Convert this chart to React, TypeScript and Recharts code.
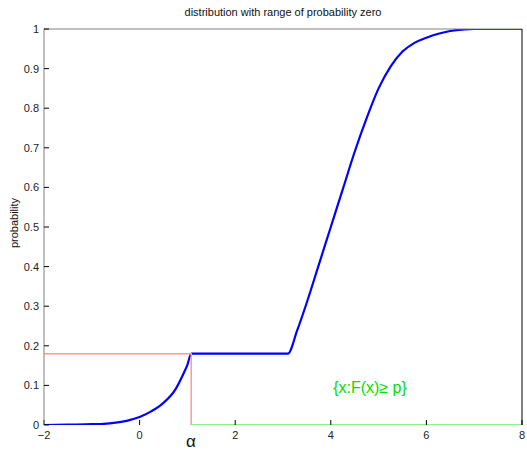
import { LineChart, Line, XAxis, YAxis, ReferenceDot } from "recharts";

// lower branch of the CDF, rising to the plateau
const lowerX = [-2, -1.5, -1, -0.75, -0.5, -0.25, 0, 0.25, 0.5, 0.75, 0.9, 1.0, 1.08];
const lowerP = [0, 0.001, 0.002, 0.003, 0.006, 0.011, 0.02, 0.035, 0.056, 0.09, 0.125, 0.152, 0.18];

// flat stretch: no probability mass between the two branches
const flatX = [1.08, 3.1];
const flatP = [0.18, 0.18];

// upper branch, from the plateau up to 1
const upperX = [3.1, 3.3, 3.5, 3.75, 4.0, 4.25, 4.5, 4.75, 5.0, 5.25, 5.5, 5.75, 6.0, 6.25, 6.5, 6.8, 7.0, 8.0];
const upperP = [0.18, 0.24, 0.31, 0.405, 0.5, 0.595, 0.69, 0.775, 0.85, 0.905, 0.943, 0.965, 0.978, 0.988, 0.995, 0.999, 1, 1];

// alpha marker and the set {x : F(x) >= p}
const alpha = 1.08;
const level = 0.18;
const guideX = [-2, alpha, alpha];
const guideP = [level, level, 0];
const setX = [alpha, 8];
const setP = [0, 0];

const xTicks = [-2, 0, 2, 4, 6, 8];
const yTicks = [0, 0.1, 0.2, 0.3, 0.4, 0.5, 0.6, 0.7, 0.8, 0.9, 1];

const zip = (xs: number[], ps: number[]) => xs.map((x, i) => ({ x, p: ps[i] }));

const curve = [...zip(lowerX, lowerP), ...zip(flatX, flatP).slice(1), ...zip(upperX, upperP).slice(1)];
const guide = zip(guideX, guideP);
const setLine = zip(setX, setP);

const FONT = "'Liberation Sans', Arial, Helvetica, sans-serif";
const tickStyle = { fontSize: 11, fill: "#222", fontFamily: FONT };
const AXIS = "#808080";

const fmtX = (v: number) => (v < 0 ? `\u2212${-v}` : String(v));
const fmtY = (v: number) => (v === 0 || v === 1 ? String(v) : v.toFixed(1));

const Empty = () => <g />;

export default function App() {
  return (
    <div style={{ position: "absolute", left: 0, top: 0, width: 527, height: 452, background: "#fff", fontFamily: FONT }}>
      <div style={{ position: "absolute", left: 83, top: 6, width: 400, textAlign: "center", fontSize: 11, lineHeight: "13px", color: "#111" }}>
        distribution with range of probability zero
      </div>
      <div
        style={{
          position: "absolute",
          left: 14,
          top: 223,
          fontSize: 11,
          lineHeight: "13px",
          color: "#111",
          transform: "translate(-50%, -50%) rotate(-90deg)",
          whiteSpace: "nowrap",
        }}
      >
        probability
      </div>
      <div style={{ position: "absolute", left: 183, top: 433, width: 16, textAlign: "center", fontSize: 17, lineHeight: "18px", color: "#111" }}>
        α
      </div>
      <LineChart width={527} height={452} margin={{ top: 28, right: 4, bottom: 26, left: 43 }}>
        {/* bottom edge is fully covered by the curve and the green set line */}
        <XAxis
          dataKey="x"
          type="number"
          domain={[-2, 8]}
          ticks={xTicks}
          tickFormatter={fmtX}
          height={1}
          tickSize={-5}
          tickMargin={11}
          tick={tickStyle}
          tickLine={{ stroke: "#000" }}
          axisLine={false}
          allowDataOverflow
        />
        <XAxis
          xAxisId="top"
          orientation="top"
          type="number"
          domain={[-2, 8]}
          ticks={xTicks}
          height={1}
          tickSize={-5}
          tick={Empty}
          tickLine={{ stroke: "#000" }}
          axisLine={{ stroke: AXIS }}
        />
        <YAxis
          type="number"
          domain={[0, 1]}
          ticks={yTicks}
          tickFormatter={fmtY}
          width={1}
          tickSize={-5}
          tickMargin={10}
          tick={tickStyle}
          tickLine={{ stroke: "#000" }}
          axisLine={{ stroke: AXIS }}
          allowDataOverflow
        />
        <YAxis
          yAxisId="right"
          orientation="right"
          type="number"
          domain={[0, 1]}
          ticks={yTicks}
          width={1}
          tickSize={-5}
          tick={Empty}
          tickLine={{ stroke: "#000" }}
          axisLine={{ stroke: "#000" }}
        />
        <Line data={setLine} dataKey="p" stroke="#66ee66" strokeWidth={1.5} dot={false} isAnimationActive={false} />
        <Line data={curve} dataKey="p" type="monotone" stroke="#0000ff" strokeWidth={2.2} dot={false} isAnimationActive={false} />
        <Line data={guide} dataKey="p" stroke="#ff9999" strokeWidth={1.5} dot={false} isAnimationActive={false} />
        <ReferenceDot
          x={4.82}
          y={0.095}
          r={0}
          fill="none"
          stroke="none"
          label={{ value: "{x:F(x)\u2265 p}", position: "center", fill: "#00e000", fontSize: 16, fontFamily: FONT }}
        />
      </LineChart>
    </div>
  );
}
